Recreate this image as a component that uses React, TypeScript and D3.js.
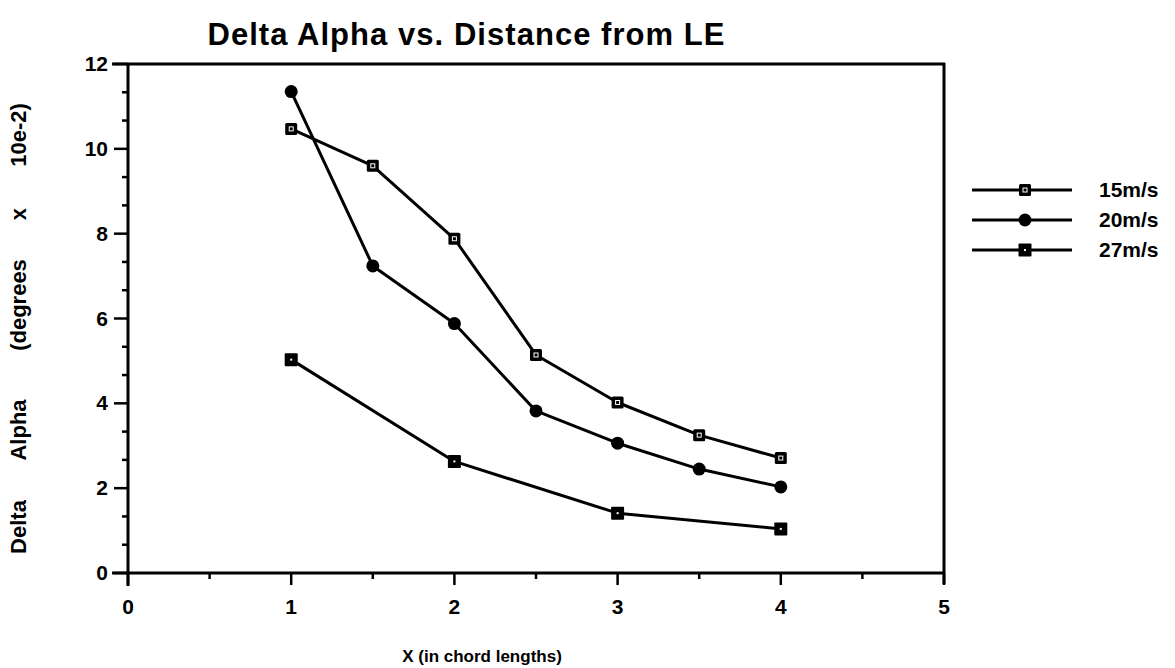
import React from "react";
import * as d3 from "d3";

const xs15 = [1, 1.5, 2, 2.5, 3, 3.5, 4];
const v15 = [10.47, 9.6, 7.88, 5.14, 4.02, 3.25, 2.71];
const xs20 = [1, 1.5, 2, 2.5, 3, 3.5, 4];
const v20 = [11.35, 7.24, 5.88, 3.82, 3.06, 2.45, 2.03];
const xs27 = [1, 2, 3, 4];
const v27 = [5.03, 2.63, 1.41, 1.04];
const seriesNames = ["15m/s", "20m/s", "27m/s"];
const xTickLabels = [0, 1, 2, 3, 4, 5];
const yTickLabels = [0, 2, 4, 6, 8, 10, 12];
const yTitleWords = ["Delta", "Alpha", "(degrees", "x", "10e-2)"];

const FONT = "'Liberation Sans', Arial, Helvetica, sans-serif";

function Marker({ kind, x, y }: { kind: number; x: number; y: number }) {
  if (kind === 1) return <circle cx={x} cy={y} r={6.5} fill="#000" />;
  if (kind === 0)
    return (
      <g>
        <rect x={x - 6} y={y - 6} width={12} height={12} rx={1.5} fill="#000" />
        <rect x={x - 2} y={y - 2} width={4} height={4} fill="none" stroke="#fff" strokeWidth={1} />
      </g>
    );
  return (
    <g>
      <rect x={x - 6.5} y={y - 6.5} width={13} height={13} rx={1} fill="#000" />
      <rect x={x - 1} y={y - 1} width={2} height={2} fill="#fff" />
    </g>
  );
}

export default function App() {
  const W = 1175, H = 668;
  const x = d3.scaleLinear().domain([0, 5]).range([128, 944]);
  const y = d3.scaleLinear().domain([0, 12]).range([573, 64]);
  const line = d3
    .line<[number, number]>()
    .x((d) => x(d[0]))
    .y((d) => y(d[1]));
  const series = [
    { xs: xs15, vs: v15 },
    { xs: xs20, vs: v20 },
    { xs: xs27, vs: v27 },
  ];
  const yMinor = d3.range(0, 12.001, 2 / 3).filter((v) => Math.abs(v / 2 - Math.round(v / 2)) > 0.01);
  const xMinor = [0.5, 1.5, 2.5, 3.5, 4.5];
  const legendY = [190, 220, 250];
  const yTitlePos = [527, 430, 305, 214, 135];

  return (
    <svg width={W} height={H} style={{ position: "absolute", left: 0, top: 0, background: "#fff" }} fontFamily={FONT}>
      <rect x={0} y={0} width={W} height={H} fill="#fff" />
      <text x={466} y={45} textAnchor="middle" fontWeight="bold" fontSize={31} textLength={517} lengthAdjust="spacing">
        Delta Alpha vs. Distance from LE
      </text>
      {/* frame */}
      <g stroke="#000" strokeWidth={3} fill="none">
        <line x1={112} y1={64} x2={945} y2={64} />
        <line x1={128} y1={63} x2={128} y2={586} />
        <line x1={112} y1={573} x2={945} y2={573} />
        <line x1={944} y1={63} x2={944} y2={584} />
      </g>
      {/* ticks */}
      <g stroke="#000" strokeWidth={2.5}>
        {yTickLabels.map((v) => (
          <line key={"ym" + v} x1={114} x2={128} y1={y(v)} y2={y(v)} />
        ))}
        {yMinor.map((v, i) => (
          <line key={"yn" + i} x1={122} x2={128} y1={y(v)} y2={y(v)} />
        ))}
        {xTickLabels.map((v) => (
          <line key={"xm" + v} x1={x(v)} x2={x(v)} y1={573} y2={585} />
        ))}
        {xMinor.map((v) => (
          <line key={"xn" + v} x1={x(v)} x2={x(v)} y1={573} y2={579} />
        ))}
      </g>
      <g fontWeight="bold" fontSize={21}>
        {yTickLabels.map((v) => (
          <text key={"yl" + v} x={108} y={y(v) + 7} textAnchor="end">
            {v}
          </text>
        ))}
        {xTickLabels.map((v) => (
          <text key={"xl" + v} x={x(v)} y={614} textAnchor="middle">
            {v}
          </text>
        ))}
      </g>
      <g fontWeight="bold" fontSize={22}>
        {yTitleWords.map((w, i) => (
          <text key={"yt" + i} transform={`translate(26,${yTitlePos[i]}) rotate(-90)`} textAnchor="middle">
            {w}
          </text>
        ))}
      </g>
      <text x={482} y={662} textAnchor="middle" fontWeight="bold" fontSize={17}>
        X (in chord lengths)
      </text>
      {/* lines */}
      {series.map((s, i) => (
        <path
          key={"s" + i}
          d={line(s.xs.map((xv, j) => [xv, s.vs[j]] as [number, number])) || ""}
          fill="none"
          stroke="#000"
          strokeWidth={3}
          strokeLinejoin="round"
        />
      ))}
      {series.map((s, i) =>
        s.xs.map((xv, j) => <Marker key={"m" + i + "-" + j} kind={i} x={x(xv)} y={y(s.vs[j])} />)
      )}
      {/* legend */}
      {seriesNames.map((n, i) => (
        <g key={"lg" + i}>
          <line x1={972} x2={1072} y1={legendY[i]} y2={legendY[i]} stroke="#000" strokeWidth={3} />
          <Marker kind={i} x={1025} y={legendY[i]} />
          <text x={1099} y={legendY[i] + 7} fontWeight="bold" fontSize={21}>
            {n}
          </text>
        </g>
      ))}
    </svg>
  );
}
